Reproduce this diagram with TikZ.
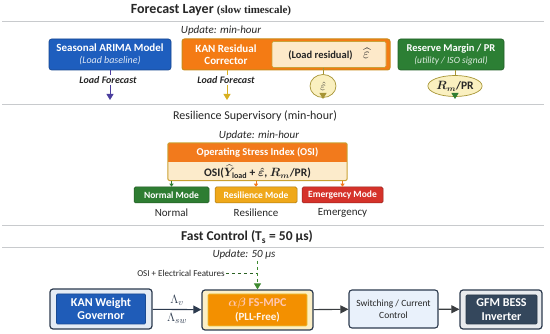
\documentclass[tikz,border=0pt]{standalone}
\usepackage{fontspec}
\setmainfont{Carlito}
\newfontfamily\headserif{Liberation Serif}
\usepackage{amsmath}
\usetikzlibrary{positioning, arrows.meta, shapes.geometric}

\definecolor{inkdark}{HTML}{262626}
\definecolor{sepgray}{HTML}{C8CACD}
\definecolor{arimablue}{HTML}{1E5EBE}
\definecolor{kanorange}{HTML}{F47B14}
\definecolor{kanedge}{HTML}{C98A1A}
\definecolor{rescream}{HTML}{FDE9C9}
\definecolor{resedge}{HTML}{C9A23A}
\definecolor{reservegreen}{HTML}{2C7F34}
\definecolor{sigcream}{HTML}{FAF0C0}
\definecolor{sigedge}{HTML}{A69434}
\definecolor{fcpurple}{HTML}{4B3E9E}
\definecolor{fcgold}{HTML}{D8B020}
\definecolor{modegreen}{HTML}{2E7D32}
\definecolor{modegold}{HTML}{EFA81A}
\definecolor{modered}{HTML}{D5322A}
\definecolor{osiorange}{HTML}{F27A1C}
\definecolor{osicream}{HTML}{FCEBCB}
\definecolor{osiedge}{HTML}{C9A030}
\definecolor{framedark}{HTML}{2C3A4E}
\definecolor{govblue}{HTML}{1F5CB8}
\definecolor{govframe}{HTML}{E5ECF5}
\definecolor{mpcframe}{HTML}{FCEFC6}
\definecolor{mpcorange}{HTML}{F39000}
\definecolor{mpcedge}{HTML}{E8C43C}
\definecolor{swfill}{HTML}{E9F1FB}
\definecolor{gfmslate}{HTML}{34475C}
\definecolor{gfmframe}{HTML}{E8EBEE}
\definecolor{featgreen}{HTML}{3E8A30}
\definecolor{arrowgray}{HTML}{3A3D40}

\tikzset{
    layer_title/.style={font=\fontsize{14}{16}\selectfont\bfseries, text=inkdark, inner sep=1pt},
    sep_line/.style={line width=0.9pt, sepgray},
    update_note/.style={font=\fontsize{11}{13}\selectfont\itshape, text=inkdark, inner sep=1pt},
    fc_box/.style={rectangle, rounded corners=2.5pt, draw=#1!75!black, fill=#1, line width=0.6pt,
        text=white, align=center, minimum height=31pt, inner sep=1pt,
        font=\fontsize{11}{12.5}\selectfont\bfseries},
    flow_label/.style={font=\fontsize{10}{11}\selectfont\bfseries\itshape, text=inkdark, fill=white, inner sep=1pt},
    down_arrow/.style={line width=1pt, -{Triangle[length=6pt, width=7pt]}},
    sig_ellipse/.style={ellipse, draw=sigedge, fill=sigcream, line width=0.7pt, inner sep=0.5pt,
        text=inkdark, font=\fontsize{11.5}{13}\selectfont\bfseries},
    mode_box/.style={rectangle, rounded corners=1.5pt, draw=#1!70!black, fill=#1, line width=0.5pt,
        minimum height=16pt, inner sep=1pt, text=white, font=\fontsize{9.5}{10}\selectfont\bfseries},
    mode_lbl/.style={font=\fontsize{11}{12}\selectfont, text=inkdark},
    mode_arrow/.style={line width=0.8pt, -{Triangle[length=3pt, width=4pt]}},
    frame_box/.style={rectangle, rounded corners=3pt, draw=framedark, line width=1.2pt, fill=#1},
    core_box/.style={rectangle, rounded corners=1pt, fill=#1, draw=#1!80!black, line width=0.6pt,
        text=white, align=center, inner sep=1pt, font=\fontsize{12}{13.5}\selectfont\bfseries},
    flow_arrow/.style={line width=1.1pt, arrowgray, -{Triangle[length=8pt, width=8pt]}}
}

\begin{document}
\begin{tikzpicture}[x=1pt, y=-1pt]
    \useasboundingbox (0,0) rectangle (550,334);
    % layer separators
    \foreach \yy in {21,104,225,247}
        \draw[sep_line] (2,\yy) -- (544,\yy);

    % Forecast layer
    \node[layer_title] (fc_title) at (211,10) {Forecast Layer {\headserif\fontsize{11}{12}\selectfont (slow timescale)}};
    \node[update_note] (upd_fc) at (221,31) {Update: min-hour};
    \node[fc_box=arimablue, minimum width=122pt] (arima) at (110,54.5)
        {Seasonal ARIMA Model\\{\fontsize{10}{11}\selectfont\mdseries\itshape\color{white!85!arimablue}(Load baseline)}};
    \node[fc_box=kanorange, draw=kanedge, line width=1pt, minimum width=208pt] (kan_res) at (286,54.5) {};
    \node[fill=rescream, draw=resedge, line width=0.6pt, rounded corners=1.5pt, minimum width=114pt, minimum height=26pt,
        inner sep=1pt, font=\fontsize{10.5}{11}\selectfont\bfseries, text=inkdark] (load_res) at (329,54.5)
        {(Load residual)\enskip\enskip{\fontsize{15}{15}\selectfont$\widehat{\varepsilon}$}};
    \node[align=center, text=white, font=\fontsize{11}{12.5}\selectfont\bfseries] (kan_res_lbl) at (226,54.5) {KAN Residual\\Corrector};
    \node[fc_box=reservegreen, minimum width=106pt, font=\fontsize{10.5}{12.5}\selectfont\bfseries] (reserve) at (451,54.5)
        {Reserve Margin / PR\\{\fontsize{9.5}{11}\selectfont\mdseries\itshape\color{white!85!reservegreen}(utility / ISO signal)}};

    % forecast outputs
    \coordinate (arima_out) at (110,100);
    \coordinate (kan_out) at (227,100);
    \draw[down_arrow, fcpurple] (arima.south -| arima_out) -- (arima_out);
    \draw[down_arrow, fcgold] (kan_res.south -| kan_out) -- (kan_out);
    \node[flow_label] (arima_fc) at (108,80) {Load Forecast};
    \node[flow_label] (kan_fc) at (226,80) {Load Forecast};
    \node[sig_ellipse, minimum width=26pt, minimum height=23pt] (eps_hat) at (323,86) {$\hat{\varepsilon}$};
    \node[sig_ellipse, minimum width=44pt, minimum height=21pt] (rm_pr) at (455,86) {$\boldsymbol{R_m}$/PR};
    \coordinate (eps_out) at (323,99);
    \coordinate (rm_out) at (455,99);
    \draw[line width=0.8pt, sigedge] (load_res.south -| eps_hat) -- (eps_hat);
    \draw[line width=0.8pt, sigedge] (reserve.south -| rm_pr) -- (rm_pr);
    \draw[down_arrow, sigedge] (eps_hat) -- (eps_out);
    \draw[down_arrow, modegreen] (rm_pr) -- (rm_out);

    % Resilience supervisory
    \node[font=\fontsize{12}{14}\selectfont, text=inkdark] (rs_title) at (255,116) {Resilience Supervisory (min-hour)};
    \node[update_note] (upd_rs) at (259,136) {Update: min-hour};
    \node[fill=osiorange, minimum width=179pt, minimum height=19pt, inner sep=1pt, text=white,
        font=\fontsize{10.5}{12}\selectfont\bfseries] (osi_head) at (257.5,152.5) {Operating Stress Index (OSI)};
    \node[fill=osicream, minimum width=179pt, minimum height=18pt, inner sep=0pt, text=inkdark,
        font=\fontsize{11.5}{12}\selectfont\bfseries, below=0pt of osi_head] (osi_body)
        {OSI($\boldsymbol{\widehat{Y}_{\textbf{load}}}$ + $\boldsymbol{\hat{\varepsilon}}$, $\boldsymbol{R_m}$/PR)};
    \draw[osiedge, line width=1pt, rounded corners=2pt] (osi_head.north west) rectangle (osi_body.south east);
    \foreach \nm/\xx/\ww/\cc/\ac/\lbl in {normal/171.5/75/modegreen/modegreen/Normal,
            resil/256/82/modegold/osiorange/Resilience, emerg/342.5/81/modered/osiorange/Emergency} {
        \node[mode_box=\cc, minimum width=\ww pt] (\nm) at (\xx,195) {\lbl\ Mode};
        \node[mode_lbl] (\nm_lbl) at (\xx,213) {\lbl};
        \draw[mode_arrow, \ac] (osi_body.south -| \nm) -- (\nm);
    }

    % Fast control
    \node[layer_title, font=\fontsize{13.5}{16}\selectfont\bfseries] (fast_title) at (247,237) {Fast Control (T\textsubscript{s} = 50 μs)};
    \node[update_note] (upd_fast) at (244,255) {Update: 50 μs};
    \node[frame_box=govframe, minimum width=102pt, minimum height=40pt] (kan_gov) at (101,309) {};
    \node[core_box=govblue, minimum width=89pt, minimum height=30pt] (kan_gov_in) at (101,309) {KAN Weight\\Governor};
    \node[frame_box=mpcframe, minimum width=111pt, minimum height=40pt] (mpc) at (257.5,310) {};
    \node[core_box=mpcorange, draw=mpcedge, minimum width=99pt, minimum height=32pt,
        font=\fontsize{12}{14}\selectfont\bfseries] (mpc_in) at (257.5,310)
        {{\color{orange!25!pink!70!white}$\boldsymbol{\alpha\beta}$ FS-MPC}\\{\color{white!92!orange}\fontsize{11}{12}\selectfont(PLL-Free)}};
    \node[rectangle, rounded corners=3pt, draw=framedark, line width=1.1pt, fill=swfill,
        minimum width=89pt, minimum height=38pt, align=center, text=inkdark,
        font=\fontsize{9.5}{12.5}\selectfont] (sw_ctrl) at (393.5,309) {Switching / Current\\Control};
    \node[frame_box=gfmframe, minimum width=82pt, minimum height=39pt] (gfm) at (501,309.5) {};
    \node[core_box=gfmslate, minimum width=71pt, minimum height=29pt] (gfm_in) at (501.5,309.5) {GFM BESS\\Inverter};

    % features into MPC
    \node[font=\fontsize{9}{10}\selectfont, text=inkdark, inner sep=1pt] (feat) at (181,273) {OSI + Electrical Features};
    \coordinate (feat_turn) at (257.5,273);
    \draw[featgreen!70!black, dashed, line width=0.8pt, dash pattern=on 3pt off 3pt] (feat) -- (feat_turn);
    \draw[featgreen, dashed, line width=0.9pt, dash pattern=on 3pt off 3pt, -{Triangle[length=6pt, width=7pt]}]
        (upd_fast.south -| feat_turn) -- (mpc);

    % signal flow
    \draw[flow_arrow, framedark] (kan_gov) -- node[above, font=\fontsize{13}{14}\selectfont] (lam_v) {$\Lambda_v$}
        node[below, font=\fontsize{13}{14}\selectfont] (lam_sw) {$\Lambda_{sw}$} (mpc);
    \draw[flow_arrow] (mpc) -- (sw_ctrl);
    \draw[flow_arrow] (sw_ctrl) -- (gfm);
\end{tikzpicture}
\end{document}
